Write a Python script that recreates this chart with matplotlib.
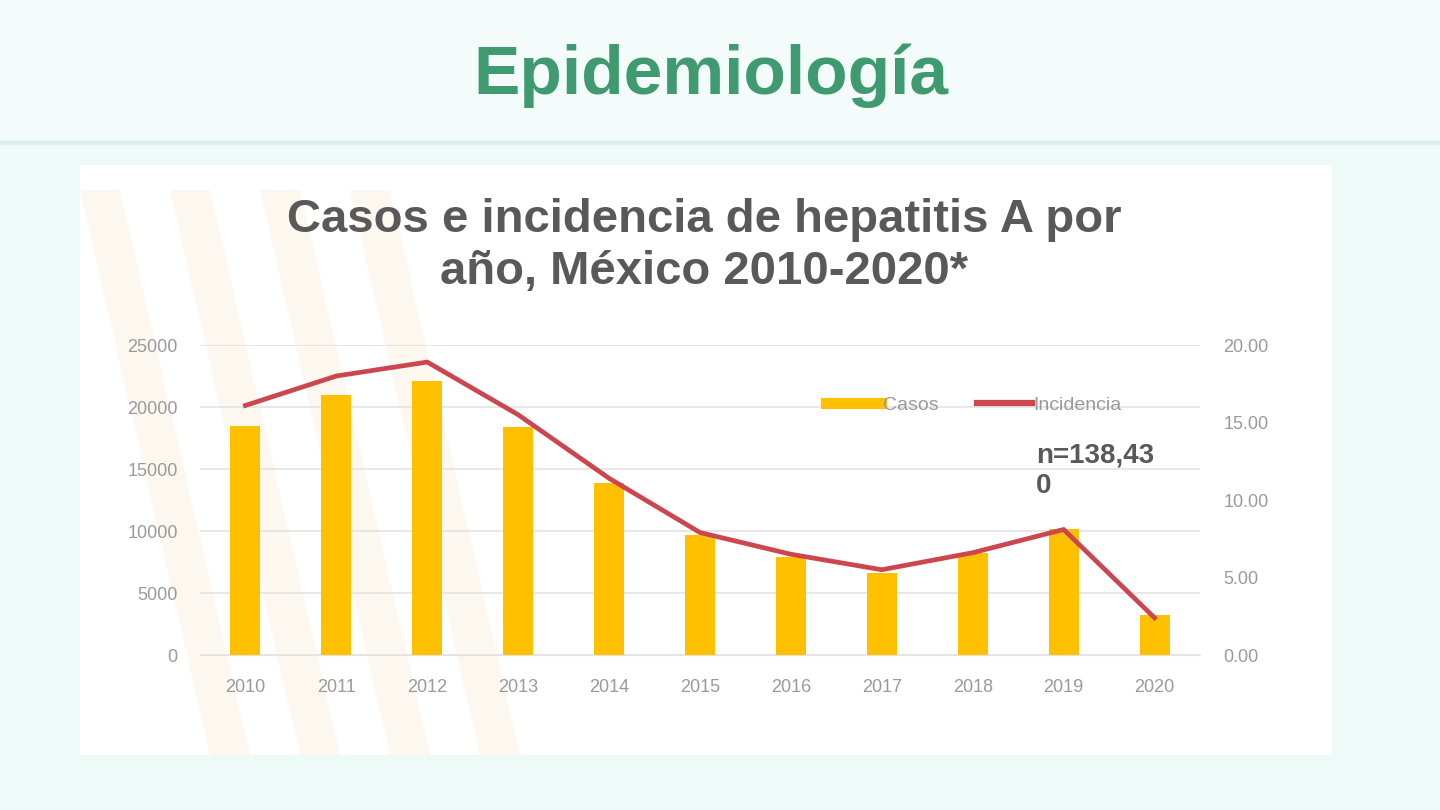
import matplotlib.pyplot as plt
from matplotlib.patches import Rectangle, Polygon
from matplotlib.lines import Line2D

# data
years = ['2010', '2011', '2012', '2013', '2014', '2015', '2016', '2017', '2018', '2019', '2020']
casos = [18500, 21000, 22100, 18400, 13900, 9700, 7900, 6600, 8200, 10200, 3200]
incidencia = [16.1, 18.0, 18.9, 15.5, 11.4, 7.9, 6.5, 5.5, 6.6, 8.1, 2.4]
left_ticks = [0, 5000, 10000, 15000, 20000, 25000]
right_ticks = [0, 5, 10, 15, 20]

plt.rcParams['font.family'] = ['Liberation Sans', 'DejaVu Sans']

fig = plt.figure(figsize=(14.4, 8.1), dpi=100)
fig.patch.set_facecolor('#eefaf7')

# header band
fig.patches.append(Rectangle((0, 1 - 140 / 810), 1, 140 / 810, transform=fig.transFigure,
                             facecolor='#f3fcfa', edgecolor='none', zorder=-3))
fig.add_artist(Line2D([0, 1], [1 - 143 / 810, 1 - 143 / 810], color='#dcefea', lw=3, zorder=-3))
fig.text(0.494, 1 - 76 / 810, 'Epidemiología', fontsize=50,
         fontweight='bold', color='#3f9a70', ha='center', va='center')

# white panel
fig.patches.append(Rectangle((80 / 1440, 1 - 755 / 810), 1252 / 1440, 590 / 810,
                             transform=fig.transFigure, facecolor='white',
                             edgecolor='none', zorder=-3))
# faint decorative stripes
for x0 in [80, 170, 260, 350]:
    pts = [(x0 / 1440, 1 - 190 / 810), ((x0 + 40) / 1440, 1 - 190 / 810),
           ((x0 + 170) / 1440, 1 - 755 / 810), ((x0 + 130) / 1440, 1 - 755 / 810)]
    fig.patches.append(Polygon(pts, closed=True, transform=fig.transFigure,
                               facecolor='#fcf7ef', edgecolor='none', zorder=-2))

fig.text(0.489, 1 - 246 / 810,
         'Casos e incidencia de hepatitis A por\naño, México 2010-2020*',
         fontsize=34, fontweight='bold', color='#595959', ha='center', va='center',
         linespacing=1.25)

ax = fig.add_axes([200 / 1440, 1 - 655 / 810, 1000 / 1440, 310 / 810])
ax.set_facecolor('none')
x = list(range(len(years)))
ax.bar(x, casos, width=0.33, color='#ffc000', zorder=2, label='Casos')
ax.set_ylim(0, 25000)
ax.set_xlim(-0.5, len(years) - 0.5)
ax.set_yticks(left_ticks)
ax.set_xticks(x)
ax.set_xticklabels(years)
ax.grid(axis='y', color='#e3e3e3', lw=1.2, zorder=0)
for s in ax.spines.values():
    s.set_visible(False)
ax.spines['bottom'].set_visible(True)
ax.spines['bottom'].set_color('#e3e3e3')
ax.tick_params(length=0, labelsize=13, colors='#9a9a9a', pad=16)
ax.tick_params(axis='x', pad=17)

ax2 = ax.twinx()
ax2.plot(x, incidencia, color='#cc4650', lw=3.4, zorder=3, label='Incidencia')
ax2.set_ylim(0, 20)
ax2.set_yticks(right_ticks)
ax2.set_yticklabels([f'{v:.2f}' for v in right_ticks])
for s in ax2.spines.values():
    s.set_visible(False)
ax2.tick_params(length=0, labelsize=13, colors='#9a9a9a', pad=17)

handles = [Line2D([], [], color='#ffc000', lw=8), Line2D([], [], color='#cc4650', lw=4.5)]
leg = ax.legend(handles, ['Casos', 'Incidencia'], loc='center', bbox_to_anchor=(0.774, 0.805),
                ncol=2, frameon=False, fontsize=14, handlelength=2.8, handletextpad=0.1,
                columnspacing=2.0, labelcolor='#9a9a9a')

ax.text(8.70, 17100, 'n=138,43\n0', fontsize=20, fontweight='bold', color='#595959',
        ha='left', va='top', linespacing=1.2)

fig.savefig('out.png', dpi=100, facecolor=fig.get_facecolor())
